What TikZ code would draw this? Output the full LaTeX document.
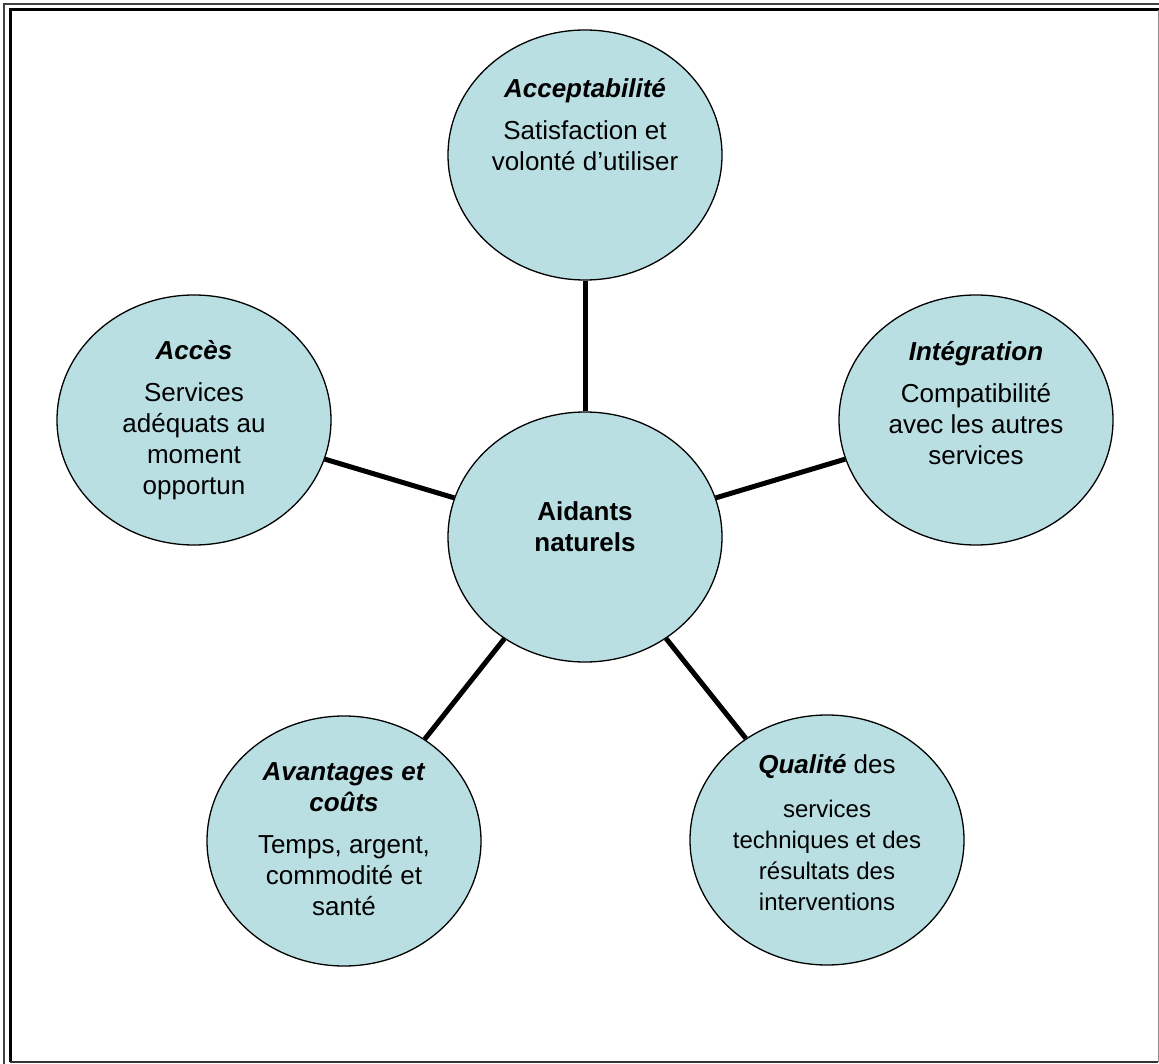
\documentclass[tikz,border=0pt]{standalone}
\usepackage{fontspec}
\setmainfont{Liberation Sans}
\usepackage{tikz}
\usetikzlibrary{shapes.geometric}
\definecolor{bleu}{RGB}{185,223,227}

\begin{document}
\begin{tikzpicture}[x=1pt, y=-1pt,
  bulle/.style={ellipse, draw, line width=1.3pt, fill=bleu, minimum width=274pt, minimum height=250pt, inner sep=0pt},
  texte/.style={align=center, font=\fontsize{26}{31}\selectfont},
  lien/.style={line width=5pt}]
  \useasboundingbox (0,0) rectangle (1159,1064);
  % cadre
  \draw[line width=1.5pt, black!75] (4,1064) -- (4,4) -- (1159,4);
  \draw[line width=3pt] (10,1062) -- (10,10) -- (1159,10);
  \draw[line width=1pt, black!45] (1158,10) -- (1158,1062);
  \draw[line width=1.5pt, black!80] (10,1062) -- (1158,1062);
  % bulles
  \node (accept) [bulle] at (585,155) {};
  \node (acces) [bulle] at (194,420) {};
  \node (integ) [bulle] at (976,420) {};
  \node (aidants) [bulle] at (585,537) {};
  \node (avant) [bulle] at (344,841) {};
  \node (qualite) [bulle] at (827,840) {};
  % textes
  \node (accept-t) [texte] at (585,125) {\textbf{\textit{Acceptabilité}}\\[11pt] Satisfaction et\\ volonté d’utiliser};
  \node (acces-t) [texte] at (194,420) {\textbf{\textit{Accès}}\\[11pt] Services\\ adéquats au\\ moment\\ opportun};
  \node (integ-t) [texte] at (976,403) {\textbf{\textit{Intégration}}\\[11pt] Compatibilité\\ avec les autres\\ services};
  \node (aidants-t) [texte] at (585,527) {\textbf{Aidants}\\ \textbf{naturels}};
  \node (avant-t) [texte] at (344,839) {\textbf{\textit{Avantages et}}\\ \textbf{\textit{coûts}}\\[11pt] Temps, argent,\\ commodité et\\ santé};
  \node (qualite-t) [texte] at (827,833) {\textbf{\textit{Qualité}} des\\[13pt] {\fontsize{24}{28}\selectfont services}\\ {\fontsize{24}{28}\selectfont techniques et des}\\ {\fontsize{24}{28}\selectfont résultats des}\\ {\fontsize{24}{28}\selectfont interventions}};
  % liens
  \draw[lien] (aidants) -- (accept);
  \draw[lien] (aidants) -- (acces);
  \draw[lien] (aidants) -- (integ);
  \draw[lien] (aidants) -- (avant);
  \draw[lien] (aidants) -- (qualite);
\end{tikzpicture}
\end{document}
